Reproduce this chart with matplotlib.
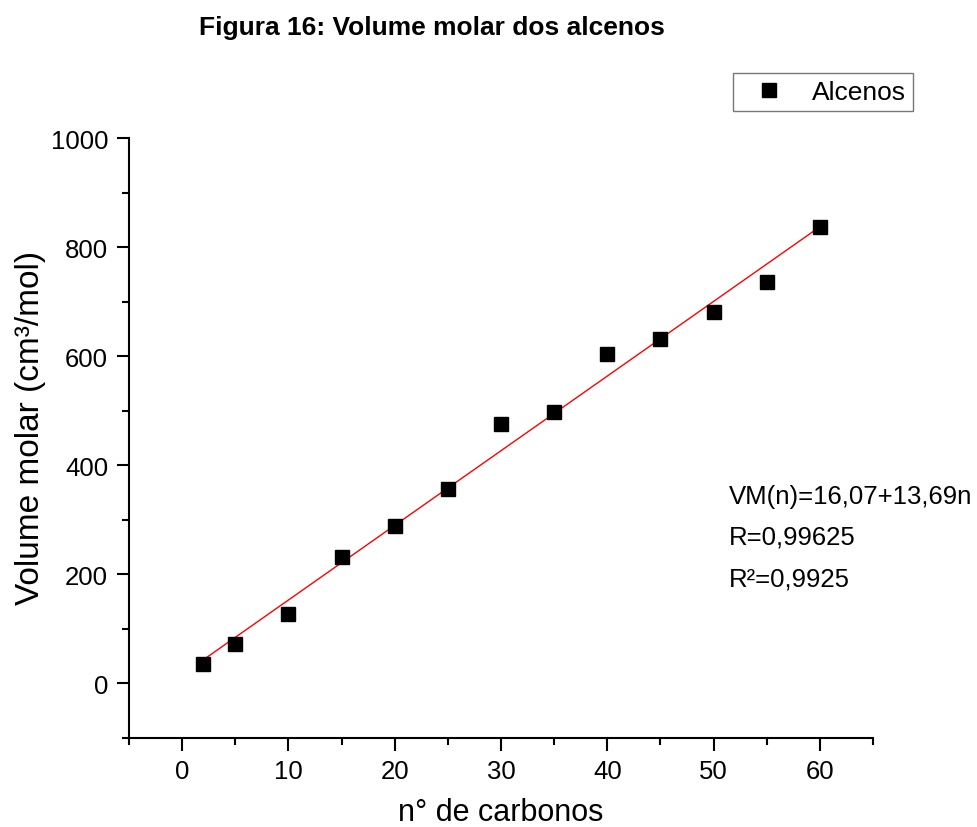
import matplotlib
matplotlib.use("Agg")
import matplotlib.pyplot as plt
from matplotlib.ticker import MultipleLocator

plt.rcParams['font.family'] = ['Liberation Sans', 'DejaVu Sans']

# Molar volume of alkenes versus number of carbons
n_carbons = [2, 5, 10, 15, 20, 25, 30, 35, 40, 45, 50, 55, 60]
molar_volume = [35, 73, 128, 231, 289, 357, 475, 498, 604, 631, 681, 736, 837]

# Linear fit reported on the chart: VM(n) = a + b*n
fit_a = 16.07
fit_b = 13.69
fit_r = "0,99625"
fit_r2 = "0,9925"

fig = plt.figure(figsize=(9.77, 8.28), dpi=100)
ax = fig.add_axes([0.132, 0.1075, 0.7616, 0.7245])

ax.plot(n_carbons, molar_volume, linestyle='none', marker='s', markersize=10,
        color='black', label='Alcenos', zorder=3)

fit_x = [min(n_carbons), max(n_carbons)]
fit_y = [fit_a + fit_b * x for x in fit_x]
ax.plot(fit_x, fit_y, color='red', linewidth=1.0, zorder=2)

ax.set_xlim(-5, 65)
ax.set_ylim(-100, 1000)
ax.xaxis.set_major_locator(MultipleLocator(10))
ax.xaxis.set_minor_locator(MultipleLocator(5))
ax.yaxis.set_major_locator(MultipleLocator(200))
ax.yaxis.set_minor_locator(MultipleLocator(100))

for side in ('top', 'right'):
    ax.spines[side].set_visible(False)
for side in ('left', 'bottom'):
    ax.spines[side].set_linewidth(1.5)

ax.tick_params(which='major', direction='out', length=9, width=1.5,
               labelsize=18.5, pad=6)
ax.tick_params(which='minor', direction='out', length=5, width=1.5)

ax.set_xlabel('n° de carbonos', fontsize=22, labelpad=10)
ax.set_ylabel('Volume molar (cm³/mol)', fontsize=24)
ax.yaxis.set_label_coords(-0.1116, 0.518)

fig.text(0.442, 0.966, 'Figura 16: Volume molar dos alcenos', ha='center',
         va='center', fontsize=19, fontweight='bold')

leg = ax.legend(loc='upper right', bbox_to_anchor=(0.9345, 0.911),
                bbox_transform=fig.transFigure, fontsize=19, frameon=True,
                fancybox=False, edgecolor='#555555', handlelength=2.15,
                handletextpad=0.55, borderpad=0.28, borderaxespad=0)
leg.get_frame().set_linewidth(1.0)

ann = f"VM(n)={fit_a:.2f}+{fit_b:.2f}n".replace('.', ',')
ax.text(51.4, 343, ann, fontsize=18.5, va='center', ha='left', clip_on=False)
ax.text(51.4, 270, f"R={fit_r}", fontsize=18.5, va='center', ha='left', clip_on=False)
ax.text(51.4, 192, f"R²={fit_r2}", fontsize=18.5, va='center', ha='left', clip_on=False)

fig.savefig('out.png', dpi=100)
